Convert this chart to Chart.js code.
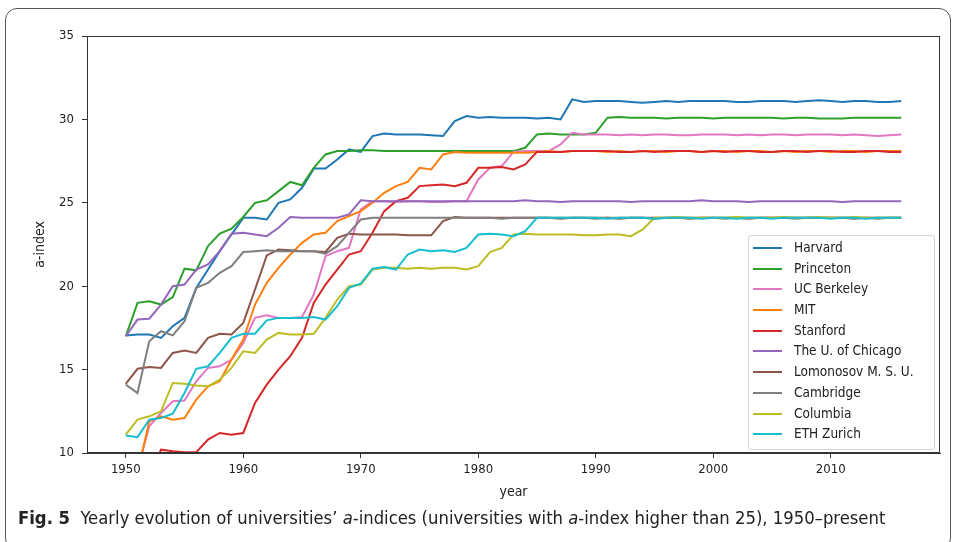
<!DOCTYPE html>
<html>
<head>
<meta charset="utf-8">
<script src="https://cdn.jsdelivr.net/npm/chart.js@4/dist/chart.umd.min.js"></script>
<style>
  body { margin: 0; width: 957px; height: 542px; background: #fff; overflow: hidden; position: relative; }
  #frame { position: absolute; left: 5px; top: 8px; width: 944px; height: 540px; border: 1px solid #555; border-radius: 12px; }
  #wrap { position: absolute; left: 0; top: 0; width: 957px; height: 510px; }
  #legend { position: absolute; left: 748px; top: 235px; width: 187px; height: 215px; border: 1px solid #d4d4d4; border-radius: 3px; background: rgba(255,255,255,0.85); box-sizing: border-box; padding-top: 1px; }
  .row { height: 20.7px; position: relative; font: 13.5px "DejaVu Sans Condensed", "DejaVu Sans", sans-serif; color: #222; }
  .row span.ln { position: absolute; left: 4px; top: 10px; width: 29px; height: 2px; }
  .row span.tx { position: absolute; left: 45px; top: 2px; white-space: nowrap; }
  #caption { position: absolute; left: 18px; top: 507px; font: 18.3px "Liberation Sans Narrow", "DejaVu Sans Condensed", sans-serif; color: #222; white-space: nowrap; }
</style>
</head>
<body>
<div id="frame"></div>
<div id="wrap"><canvas id="chart" width="957" height="510"></canvas></div>
<div id="legend"></div>
<div id="caption"><b>Fig. 5</b>&nbsp; Yearly evolution of universities’ <i>a</i>-indices (universities with <i>a</i>-index higher than 25), 1950–present</div>
<script>
const years = [];
for (let y = 1950; y <= 2016; y++) years.push(y);

const names = ['Harvard', 'Princeton', 'UC Berkeley', 'MIT', 'Stanford', 'The U. of Chicago',
    'Lomonosov M. S. U.', 'Cambridge', 'Columbia', 'ETH Zurich'];
const colors = ['#1f77b4', '#2ca02c', '#e377c2', '#ff7f0e', '#d62728', '#9467bd',
    '#8c564b', '#7f7f7f', '#bcbd22', '#17becf'];

const harvard = [
    17.05, 17.1, 17.1, 16.9, 17.6, 18.1, 19.9, 21.0, 22.1, 23.1,
    24.1, 24.1, 24.0, 25.0, 25.2, 25.9, 27.05, 27.05, 27.6, 28.2,
    28.05, 29.0, 29.15, 29.1, 29.1, 29.1, 29.05, 29.0, 29.9, 30.2,
    30.1, 30.15, 30.1, 30.1, 30.1, 30.05, 30.1, 30.0, 31.2, 31.05,
    31.1, 31.1, 31.1, 31.05, 31.0, 31.05, 31.1, 31.05, 31.1, 31.1,
    31.1, 31.1, 31.05, 31.05, 31.1, 31.1, 31.1, 31.05, 31.1, 31.15,
    31.1, 31.05, 31.1, 31.1, 31.05, 31.05, 31.1];
const princeton = [
    17.0, 19.0, 19.1, 18.9, 19.35, 21.05, 20.95, 22.4, 23.15, 23.45,
    24.15, 25.0, 25.15, 25.7, 26.25, 26.05, 27.1, 27.9, 28.1, 28.1,
    28.15, 28.15, 28.1, 28.1, 28.1, 28.1, 28.1, 28.1, 28.1, 28.1,
    28.1, 28.1, 28.1, 28.1, 28.3, 29.1, 29.15, 29.1, 29.1, 29.1,
    29.2, 30.1, 30.15, 30.1, 30.1, 30.1, 30.05, 30.1, 30.1, 30.1,
    30.05, 30.1, 30.1, 30.1, 30.1, 30.1, 30.05, 30.1, 30.1, 30.05,
    30.05, 30.05, 30.1, 30.1, 30.1, 30.1, 30.1];
const berkeley = [
    7.5, 9.0, 11.6, 12.4, 13.1, 13.15, 14.3, 15.1, 15.2, 15.6,
    16.6, 18.1, 18.25, 18.1, 18.1, 18.15, 19.5, 21.8, 22.1, 22.3,
    24.6, 25.1, 25.1, 25.05, 25.1, 25.1, 25.05, 25.05, 25.1, 25.1,
    26.4, 27.1, 27.2, 28.05, 28.1, 28.1, 28.1, 28.5, 29.2, 29.1,
    29.1, 29.1, 29.05, 29.1, 29.05, 29.1, 29.1, 29.05, 29.05, 29.1,
    29.1, 29.1, 29.05, 29.1, 29.05, 29.1, 29.1, 29.05, 29.1, 29.1,
    29.1, 29.05, 29.1, 29.05, 29.0, 29.05, 29.1];
const mit = [
    8.2, 8.8, 11.9, 12.2, 12.0, 12.1, 13.2, 14.0, 14.3, 15.6,
    16.8, 18.9, 20.2, 21.1, 21.9, 22.6, 23.1, 23.2, 23.9, 24.2,
    24.5, 25.0, 25.6, 26.0, 26.25, 27.1, 27.0, 27.9, 28.05, 28.0,
    28.0, 28.0, 28.0, 28.0, 28.0, 28.05, 28.1, 28.05, 28.1, 28.1,
    28.1, 28.05, 28.1, 28.05, 28.1, 28.1, 28.05, 28.1, 28.1, 28.05,
    28.1, 28.1, 28.05, 28.1, 28.1, 28.05, 28.1, 28.05, 28.1, 28.1,
    28.05, 28.1, 28.1, 28.05, 28.1, 28.1, 28.1];
const stanford = [
    7.0, 7.8, 8.5, 10.2, 10.1, 10.05, 10.05, 10.8, 11.2, 11.1,
    11.2, 13.0, 14.1, 15.0, 15.8, 16.9, 19.0, 20.1, 21.0, 21.9,
    22.1, 23.2, 24.5, 25.1, 25.3, 26.0, 26.05, 26.1, 26.0, 26.2,
    27.1, 27.1, 27.15, 27.0, 27.3, 28.05, 28.05, 28.05, 28.1, 28.1,
    28.1, 28.1, 28.05, 28.05, 28.1, 28.05, 28.1, 28.1, 28.1, 28.05,
    28.1, 28.05, 28.1, 28.1, 28.05, 28.05, 28.1, 28.1, 28.05, 28.1,
    28.1, 28.05, 28.05, 28.1, 28.1, 28.05, 28.05];
const chicago = [
    17.0, 18.0, 18.05, 18.9, 20.0, 20.1, 21.0, 21.3, 22.1, 23.15,
    23.2, 23.1, 23.0, 23.5, 24.15, 24.1, 24.1, 24.1, 24.1, 24.3,
    25.15, 25.1, 25.1, 25.1, 25.1, 25.1, 25.1, 25.1, 25.1, 25.1,
    25.1, 25.1, 25.1, 25.1, 25.15, 25.1, 25.1, 25.05, 25.1, 25.1,
    25.1, 25.1, 25.1, 25.05, 25.1, 25.1, 25.1, 25.1, 25.1, 25.15,
    25.1, 25.1, 25.1, 25.05, 25.1, 25.1, 25.1, 25.1, 25.1, 25.1,
    25.1, 25.05, 25.1, 25.1, 25.1, 25.1, 25.1];
const lomonosov = [
    14.15, 15.05, 15.15, 15.1, 16.0, 16.15, 16.0, 16.9, 17.15, 17.1,
    17.8, 19.8, 21.85, 22.2, 22.15, 22.1, 22.1, 22.05, 22.9, 23.15,
    23.1, 23.1, 23.1, 23.1, 23.05, 23.05, 23.05, 23.9, 24.15, 24.1,
    24.1, 24.1, 24.1, 24.1, 24.1, 24.1, 24.1, 24.05, 24.1, 24.1,
    24.1, 24.1, 24.05, 24.1, 24.1, 24.1, 24.1, 24.1, 24.05, 24.1,
    24.1, 24.1, 24.1, 24.05, 24.1, 24.1, 24.1, 24.1, 24.1, 24.1,
    24.1, 24.1, 24.05, 24.1, 24.1, 24.1, 24.1];
const cambridge = [
    14.1, 13.6, 16.7, 17.3, 17.05, 17.9, 19.9, 20.2, 20.8, 21.2,
    22.05, 22.1, 22.15, 22.1, 22.1, 22.1, 22.1, 21.95, 22.4, 23.2,
    24.0, 24.1, 24.1, 24.1, 24.1, 24.1, 24.1, 24.1, 24.1, 24.1,
    24.1, 24.1, 24.05, 24.1, 24.1, 24.1, 24.1, 24.1, 24.1, 24.1,
    24.05, 24.1, 24.1, 24.1, 24.1, 24.05, 24.1, 24.1, 24.1, 24.1,
    24.1, 24.05, 24.1, 24.1, 24.1, 24.1, 24.1, 24.05, 24.1, 24.1,
    24.1, 24.1, 24.1, 24.1, 24.05, 24.1, 24.1];
const columbia = [
    11.1, 12.0, 12.2, 12.5, 14.2, 14.15, 14.05, 14.0, 14.4, 15.1,
    16.1, 16.0, 16.8, 17.2, 17.1, 17.1, 17.15, 18.1, 19.2, 20.0,
    20.1, 21.0, 21.1, 21.1, 21.05, 21.1, 21.05, 21.1, 21.1, 21.0,
    21.2, 22.05, 22.3, 23.1, 23.15, 23.1, 23.1, 23.1, 23.1, 23.05,
    23.05, 23.1, 23.1, 23.0, 23.4, 24.1, 24.1, 24.15, 24.1, 24.1,
    24.1, 24.1, 24.15, 24.1, 24.1, 24.1, 24.15, 24.1, 24.1, 24.15,
    24.1, 24.1, 24.15, 24.1, 24.1, 24.1, 24.1];
const eth = [
    11.05, 10.95, 12.0, 12.1, 12.35, 13.6, 15.05, 15.2, 16.0, 16.9,
    17.15, 17.15, 17.95, 18.1, 18.1, 18.1, 18.15, 18.0, 18.8, 19.9,
    20.15, 21.05, 21.15, 21.0, 21.9, 22.2, 22.1, 22.15, 22.05, 22.3,
    23.1, 23.15, 23.1, 23.0, 23.3, 24.1, 24.1, 24.1, 24.1, 24.1,
    24.1, 24.05, 24.1, 24.1, 24.1, 24.05, 24.1, 24.1, 24.1, 24.05,
    24.1, 24.1, 24.05, 24.1, 24.1, 24.05, 24.1, 24.1, 24.1, 24.1,
    24.05, 24.1, 24.1, 24.05, 24.1, 24.1, 24.1];

const series = [harvard, princeton, berkeley, mit, stanford, chicago, lomonosov, cambridge, columbia, eth];
const yTicks = [10, 15, 20, 25, 30, 35];
const xTicks = [1950, 1960, 1970, 1980, 1990, 2000, 2010];

const FONT = '"DejaVu Sans Condensed", "DejaVu Sans", sans-serif';
Chart.defaults.font.family = FONT;
Chart.defaults.font.size = 13;
Chart.defaults.color = '#222';

// full box round the plot (matplotlib spines)
const boxPlugin = {
    id: 'box',
    afterDatasetsDraw(chart) {
        const a = chart.chartArea, ctx = chart.ctx;
        ctx.save();
        ctx.strokeStyle = '#333';
        ctx.lineWidth = 1;
        ctx.strokeRect(Math.round(a.left) + 0.5, Math.round(a.top) + 0.5, Math.round(a.right - a.left) - 1, Math.round(a.bottom - a.top) - 1);
        ctx.restore();
    }
};

const datasets = names.map((name, i) => ({
    label: name,
    data: years.map((yr, j) => ({ x: yr, y: series[i][j] })),
    borderColor: colors[i],
    backgroundColor: colors[i],
    borderWidth: 2,
    pointRadius: 0,
    tension: 0,
    order: -i
}));

const chart = new Chart(document.getElementById('chart'), {
    type: 'line',
    data: { datasets: datasets },
    plugins: [boxPlugin],
    options: {
        responsive: false,
        animation: false,
        devicePixelRatio: 1,
        layout: { padding: { left: 28, right: 17, top: 36, bottom: 0 } },
        plugins: { legend: { display: false }, tooltip: { enabled: false } },
        scales: {
            x: {
                type: 'linear',
                min: 1946.7,
                max: 2019.3,
                afterFit: s => { s.height = 57; s.paddingLeft = 0; s.paddingRight = 0; },
                afterBuildTicks: s => { s.ticks = xTicks.map(v => ({ value: v })); },
                ticks: { padding: 4, callback: v => String(v), maxRotation: 0 },
                grid: { drawOnChartArea: false, tickLength: 5, color: '#333' },
                border: { color: '#333' },
                title: { display: true, text: 'year', font: { size: 14 }, padding: { top: 4, bottom: 9 } }
            },
            y: {
                min: 10,
                max: 35,
                afterFit: s => { s.width = 59; s.paddingTop = 0; s.paddingBottom = 0; },
                afterBuildTicks: s => { s.ticks = yTicks.map(v => ({ value: v })); },
                ticks: { padding: 8 },
                grid: { drawOnChartArea: false, tickLength: 5, color: '#333' },
                border: { color: '#333' },
                title: { display: true, text: 'a-index', font: { size: 14 }, padding: { top: 4, bottom: 4 } }
            }
        }
    }
});

// legend box inside the plot, built from the datasets
const legend = document.getElementById('legend');
chart.data.datasets.forEach(ds => {
    const row = document.createElement('div');
    row.className = 'row';
    const ln = document.createElement('span');
    ln.className = 'ln';
    ln.style.background = ds.borderColor;
    const tx = document.createElement('span');
    tx.className = 'tx';
    tx.textContent = ds.label;
    row.appendChild(ln);
    row.appendChild(tx);
    legend.appendChild(row);
});
</script>
</body>
</html>
